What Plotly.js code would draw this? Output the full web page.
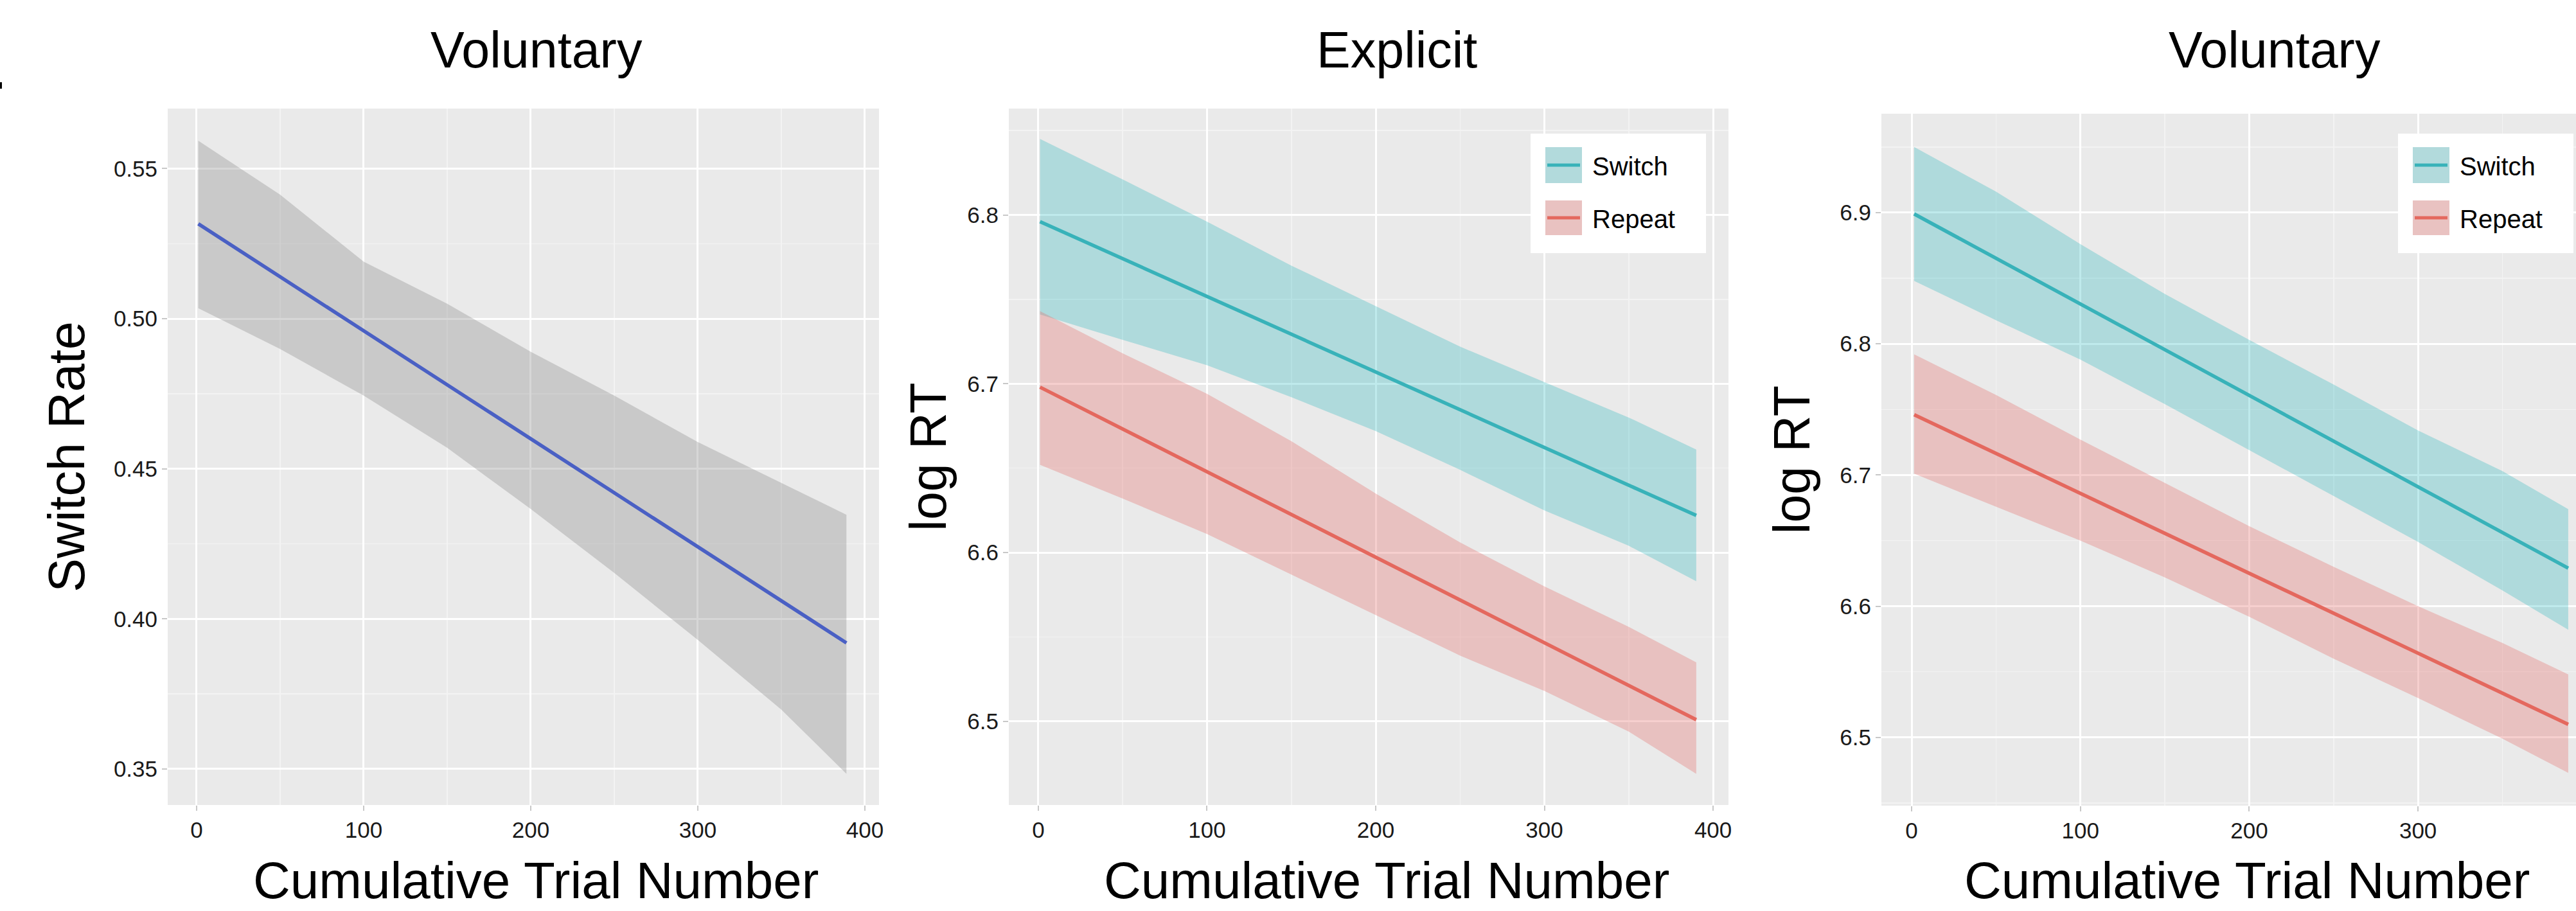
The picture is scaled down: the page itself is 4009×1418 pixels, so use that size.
<!DOCTYPE html>
<html><head><meta charset="utf-8">
<script src="https://cdn.plot.ly/plotly-3.0.1.min.js"></script>
<style>html,body{margin:0;padding:0;background:#fff}#chart{width:4009px;height:1418px}</style>
</head><body><div id="chart"></div>
<script>
// ---------- Panel 1: Voluntary — switch rate ----------
const trialBandA = [1, 50, 100, 150, 200, 250, 300, 350, 389];
const switchRateUpper = [0.5593, 0.5413, 0.5190, 0.5050, 0.4890, 0.4744, 0.4589, 0.4453, 0.4347];
const switchRateLower = [0.5035, 0.4899, 0.4744, 0.4570, 0.4366, 0.4153, 0.3930, 0.3698, 0.3484];
const trialLineA = [1, 389];
const switchRateFit = [0.5316, 0.3920];

// ---------- Panel 2: Explicit — log RT ----------
const trialBandB = [1, 50, 100, 150, 200, 250, 300, 350, 390];
const explicitSwitchUpper = [6.845, 6.821, 6.796, 6.770, 6.746, 6.722, 6.701, 6.680, 6.661];
const explicitSwitchLower = [6.741, 6.726, 6.711, 6.692, 6.672, 6.649, 6.625, 6.604, 6.583];
const explicitRepeatUpper = [6.743, 6.718, 6.694, 6.666, 6.635, 6.606, 6.580, 6.556, 6.535];
const explicitRepeatLower = [6.652, 6.632, 6.611, 6.587, 6.563, 6.539, 6.518, 6.494, 6.469];
const trialLineB = [1, 390];
const explicitSwitchFit = [6.796, 6.622];
const explicitRepeatFit = [6.698, 6.501];

// ---------- Panel 3: Voluntary — log RT ----------
const trialBandC = [1.5, 50, 100, 150, 200, 250, 300, 350, 389];
const voluntarySwitchUpper = [6.950, 6.916, 6.876, 6.838, 6.803, 6.769, 6.734, 6.703, 6.674];
const voluntarySwitchLower = [6.848, 6.818, 6.788, 6.754, 6.719, 6.684, 6.649, 6.612, 6.582];
const voluntaryRepeatUpper = [6.792, 6.761, 6.727, 6.694, 6.661, 6.630, 6.600, 6.572, 6.548];
const voluntaryRepeatLower = [6.701, 6.676, 6.650, 6.622, 6.592, 6.560, 6.530, 6.499, 6.473];
const trialLineC = [1.5, 389];
const voluntarySwitchFit = [6.899, 6.629];
const voluntaryRepeatFit = [6.746, 6.510];

// ---------- labels ----------
const panelTitles = ["Voluntary", "Explicit", "Voluntary"];
const yTitles = ["Switch Rate", "log RT", "log RT"];
const xTitle = "Cumulative Trial Number";
const seriesNames = ["Switch", "Repeat"];
const xTickVals = [0, 100, 200, 300, 400];

// ---------- styles ----------
const FONT = "Liberation Sans, Arial, Helvetica, sans-serif";
const W = 4009, H = 1418;
const BG = "#EAEAEA";
const GREY_FILL = "rgba(140,140,140,0.35)";
const BLUE = "#4A60C4";
const TEAL = "#38B2B9", TEAL_FILL = "rgba(0,170,178,0.25)", TEAL_KEY = "#B2DADC";
const RED = "#E4685E", RED_FILL = "rgba(229,110,105,0.33)", RED_KEY = "#E9C2C1";

function band(xs, up, lo, fill, xa, ya) {
  return {
    type: "scatter", mode: "lines",
    x: xs.concat(xs.slice().reverse()),
    y: up.concat(lo.slice().reverse()),
    fill: "toself", fillcolor: fill, line: {width: 0},
    hoverinfo: "skip", showlegend: false, xaxis: xa, yaxis: ya
  };
}
function fitLine(xs, ys, color, name, xa, ya) {
  return {type: "scatter", mode: "lines", x: xs, y: ys, name: name,
    line: {color: color, width: 5.5}, showlegend: false, xaxis: xa, yaxis: ya};
}

const traces = [
  band(trialBandA, switchRateUpper, switchRateLower, GREY_FILL, "x", "y"),
  fitLine(trialLineA, switchRateFit, BLUE, "Switch Rate", "x", "y"),
  band(trialBandB, explicitSwitchUpper, explicitSwitchLower, TEAL_FILL, "x2", "y2"),
  band(trialBandB, explicitRepeatUpper, explicitRepeatLower, RED_FILL, "x2", "y2"),
  fitLine(trialLineB, explicitSwitchFit, TEAL, seriesNames[0], "x2", "y2"),
  fitLine(trialLineB, explicitRepeatFit, RED, seriesNames[1], "x2", "y2"),
  band(trialBandC, voluntarySwitchUpper, voluntarySwitchLower, TEAL_FILL, "x3", "y3"),
  band(trialBandC, voluntaryRepeatUpper, voluntaryRepeatLower, RED_FILL, "x3", "y3"),
  fitLine(trialLineC, voluntarySwitchFit, TEAL, seriesNames[0], "x3", "y3"),
  fitLine(trialLineC, voluntaryRepeatFit, RED, seriesNames[1], "x3", "y3")
];

const P = x => x / W, Q = y => 1 - y / H;

function xAxis(dom, range, anchor) {
  return {
    domain: dom, range: range, anchor: anchor,
    tickvals: xTickVals, ticks: "outside", ticklen: 8, tickwidth: 2, tickcolor: "#c8c8c8",
    tickfont: {family: FONT, size: 35, color: "#1a1a1a"},
    showgrid: true, gridcolor: "#FFFFFF", gridwidth: 3,
    minor: {dtick: 50, tick0: 0, showgrid: true, gridcolor: "#F3F3F3", gridwidth: 1.5},
    zeroline: false, showline: false, automargin: false, fixedrange: true
  };
}
function yAxis(dom, range, anchor, dtick, fmt, title, standoff) {
  return {
    domain: dom, range: range, anchor: anchor,
    dtick: dtick, tick0: 0, tickformat: fmt,
    ticks: "outside", ticklen: 8, tickwidth: 2, tickcolor: "#c8c8c8",
    tickfont: {family: FONT, size: 35, color: "#1a1a1a"},
    showgrid: true, gridcolor: "#FFFFFF", gridwidth: 3,
    minor: {dtick: dtick / 2, tick0: 0, showgrid: true, gridcolor: "#F3F3F3", gridwidth: 1.5},
    zeroline: false, showline: false, automargin: false, fixedrange: true,
    title: {text: title, font: {family: FONT, size: 79, color: "#000"}, standoff: standoff}
  };
}

const yDomAB = [Q(1253), Q(169)];
const yDomC = [Q(1254), Q(177)];

// manual ggplot-style legends (key squares + line + label)
function legendShapes(x0) {
  const dx = x0 - 2382;
  const s = [];
  s.push({type: "rect", xref: "paper", yref: "paper", x0: P(2382 + dx), x1: P(2655 + dx), y0: Q(394), y1: Q(208),
    fillcolor: "#FFFFFF", line: {width: 0}, layer: "above"});
  const keys = [[229, 285, TEAL_KEY, TEAL], [312, 366, RED_KEY, RED]];
  keys.forEach(k => {
    s.push({type: "rect", xref: "paper", yref: "paper", x0: P(2405 + dx), x1: P(2462 + dx), y0: Q(k[1]), y1: Q(k[0]),
      fillcolor: k[2], line: {width: 0}, layer: "above"});
    const yc = (k[0] + k[1]) / 2;
    s.push({type: "line", xref: "paper", yref: "paper", x0: P(2408 + dx), x1: P(2459 + dx), y0: Q(yc), y1: Q(yc),
      line: {color: k[3], width: 5}, layer: "above"});
  });
  return s;
}
function legendLabels(x0) {
  const dx = x0 - 2382;
  return seriesNames.map((n, i) => ({
    text: n, xref: "paper", yref: "paper", x: P(2476 + dx), y: Q(i === 0 ? 259 : 341),
    xanchor: "left", yanchor: "middle", showarrow: false,
    font: {family: FONT, size: 40, color: "#000"}
  }));
}

const titleCenters = [835, 2174, 3540];
const xTitleCenters = [834, 2158, 3497];
const annotations = panelTitles.map((t, i) => ({
  text: t, xref: "paper", yref: "paper", x: P(titleCenters[i]), y: Q(77),
  xanchor: "center", yanchor: "middle", showarrow: false,
  font: {family: FONT, size: 79, color: "#000"}
})).concat(xTitleCenters.map(c => ({
  text: xTitle, xref: "paper", yref: "paper", x: P(c), y: Q(1416),
  xanchor: "center", yanchor: "bottom", showarrow: false, borderpad: 0,
  font: {family: FONT, size: 80, color: "#000"}
})), legendLabels(2382), legendLabels(3732));

const layout = {
  width: W, height: H,
  margin: {l: 0, r: 0, t: 0, b: 0, pad: 0},
  paper_bgcolor: "#FFFFFF", plot_bgcolor: BG,
  showlegend: false,
  font: {family: FONT},
  xaxis: xAxis([P(261), P(1368)], [-17.3, 408.5], "y"),
  yaxis: yAxis(yDomAB, [0.338, 0.570], "x", 0.05, ".2f", yTitles[0], 19),
  xaxis2: xAxis([P(1570), P(2690)], [-17.5, 409.1], "y2"),
  yaxis2: yAxis(yDomAB, [6.4505, 6.863], "x2", 0.1, ".1f", yTitles[1], 6),
  xaxis3: xAxis([P(2928), 1], [-17.9, 393.6], "y3"),
  yaxis3: yAxis(yDomC, [6.448, 6.9754], "x3", 0.1, ".1f", yTitles[2], 20),
  shapes: legendShapes(2382).concat(legendShapes(3732), [
    {type: "line", xref: "paper", yref: "paper", x0: P(1.5), x1: P(1.5), y0: Q(138), y1: Q(128),
     line: {color: "#000", width: 3}}
  ]),
  annotations: annotations
};

Plotly.newPlot("chart", traces, layout, {staticPlot: true, displayModeBar: false});
</script>
</body></html>
